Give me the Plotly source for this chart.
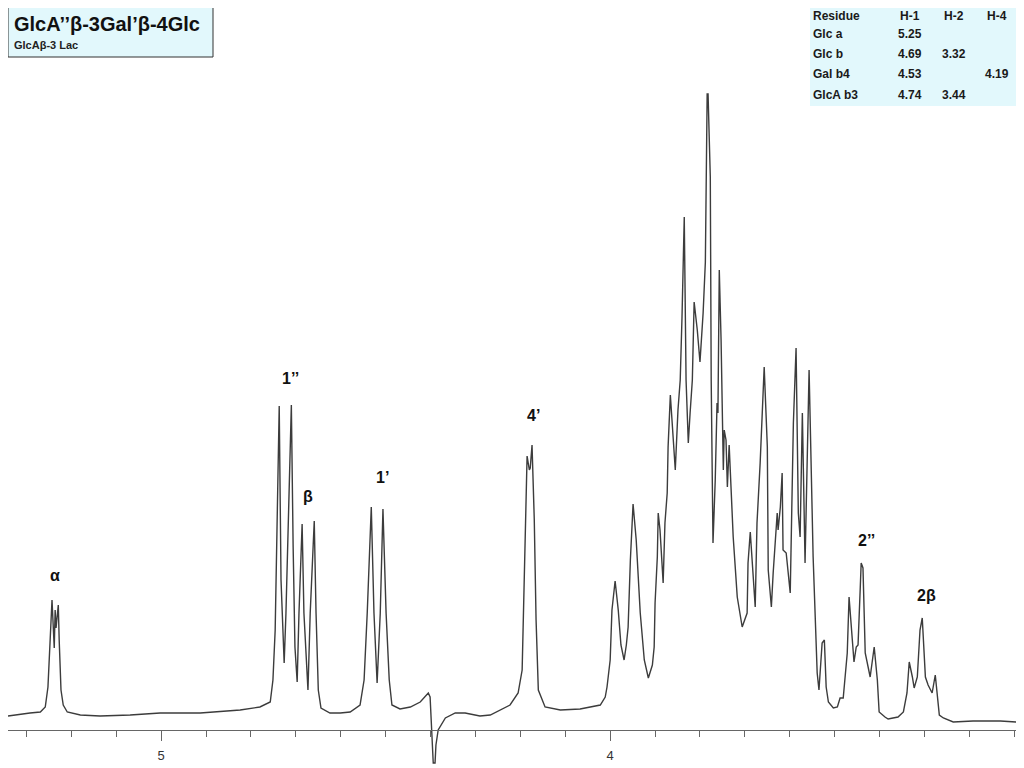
import plotly.graph_objects as go

# 1H NMR trace, chemical shift (ppm) and intensity (a.u.)
shift_ppm = [
    5.341, 5.314, 5.292, 5.269, 5.258, 5.252, 5.247, 5.245, 5.243, 5.238, 5.236, 5.234,
    5.229, 5.227, 5.223, 5.218, 5.209, 5.180, 5.136, 5.069, 5.002, 4.913, 4.824, 4.780,
    4.757, 4.751, 4.746, 4.742, 4.737, 4.733, 4.728, 4.726, 4.722, 4.717, 4.713, 4.710,
    4.706, 4.702, 4.697, 4.693, 4.686, 4.682, 4.673, 4.668, 4.659, 4.655, 4.650, 4.644,
    4.624, 4.601, 4.579, 4.557, 4.548, 4.541, 4.532, 4.526, 4.519, 4.512, 4.506, 4.499,
    4.492, 4.486, 4.468, 4.445, 4.423, 4.405, 4.401, 4.396, 4.394, 4.390, 4.388, 4.383,
    4.367, 4.345, 4.323, 4.290, 4.267, 4.223, 4.205, 4.196, 4.192, 4.187, 4.185, 4.180,
    4.178, 4.174, 4.169, 4.165, 4.160, 4.145, 4.111, 4.067, 4.022, 4.011, 4.007, 4.000,
    3.996, 3.989, 3.982, 3.976, 3.969, 3.964, 3.960, 3.955, 3.949, 3.942, 3.933, 3.924,
    3.915, 3.906, 3.902, 3.900, 3.895, 3.893, 3.889, 3.882, 3.878, 3.873, 3.871, 3.866,
    3.862, 3.855, 3.849, 3.844, 3.840, 3.835, 3.831, 3.826, 3.822, 3.817, 3.813, 3.806,
    3.800, 3.793, 3.788, 3.786, 3.784, 3.782, 3.777, 3.775, 3.773, 3.771, 3.766, 3.762,
    3.760, 3.757, 3.753, 3.751, 3.748, 3.746, 3.742, 3.739, 3.735, 3.726, 3.717, 3.706,
    3.695, 3.693, 3.688, 3.677, 3.673, 3.666, 3.657, 3.650, 3.648, 3.641, 3.637, 3.628,
    3.626, 3.621, 3.617, 3.615, 3.608, 3.599, 3.595, 3.592, 3.586, 3.581, 3.577, 3.572,
    3.566, 3.557, 3.548, 3.543, 3.539, 3.535, 3.528, 3.523, 3.519, 3.514, 3.503, 3.494,
    3.488, 3.481, 3.472, 3.468, 3.461, 3.457, 3.452, 3.448, 3.443, 3.441, 3.437, 3.432,
    3.421, 3.412, 3.405, 3.401, 3.388, 3.381, 3.359, 3.347, 3.339, 3.334, 3.327, 3.323,
    3.316, 3.310, 3.305, 3.298, 3.292, 3.283, 3.276, 3.272, 3.267, 3.258, 3.236, 3.192,
    3.131, 3.094,
]
intensity = [
    14, 16, 17, 18, 23, 43, 90, 115, 130, 82, 120, 102,
    125, 90, 40, 25, 18, 15, 14, 15, 17, 17, 20, 23,
    28, 50, 100, 200, 324, 150, 77, 67, 117, 200, 283, 325,
    183, 83, 48, 117, 206, 117, 40, 117, 209, 117, 40, 22,
    17, 17, 18, 25, 50, 117, 223, 117, 47, 117, 221, 117,
    50, 25, 21, 23, 28, 37, 33, -10, -33, -33, -15, 0,
    12, 17, 17, 14, 15, 25, 37, 60, 130, 230, 274, 260,
    262, 285, 210, 110, 40, 23, 20, 21, 25, 33, 43, 70,
    120, 149, 120, 85, 70, 85, 103, 170, 226, 190, 117, 70,
    52, 65, 83, 127, 173, 217, 200, 147, 207, 237, 283, 335,
    310, 260, 320, 350, 413, 513, 350, 287, 317, 350, 428, 400,
    368, 417, 468, 553, 636, 636, 553, 350, 263, 187, 250, 327,
    317, 460, 390, 317, 260, 300, 290, 243, 285, 193, 133, 103,
    117, 167, 198, 123, 207, 267, 363, 283, 160, 123, 157, 217,
    200, 223, 257, 180, 177, 137, 227, 307, 382, 217, 193, 317,
    167, 360, 173, 117, 57, 40, 87, 90, 43, 28, 22, 23,
    32, 32, 77, 133, 90, 68, 83, 85, 143, 167, 162, 77,
    53, 83, 50, 18, 13, 11, 13, 18, 37, 68, 53, 42,
    53, 100, 112, 53, 45, 37, 55, 37, 15, 12, 8, 9,
    9, 8,
]

# assigned peaks: label, shift (ppm), label height (a.u.)
peak_labels = ["α", "1’’", "β", "1’", "4’", "2’’", "2β"]
label_ppm = [5.236, 4.713, 4.673, 4.508, 4.171, 3.430, 3.296]
label_height = [155, 352, 234, 253, 315, 190, 135]

# chemical shift table
table_header = ["Residue", "H-1", "H-2", "H-4"]
table_rows = [
    ["Glc a", "5.25", "", ""],
    ["Glc b", "4.69", "3.32", ""],
    ["Gal b4", "4.53", "", "4.19"],
    ["GlcA b3", "4.74", "3.44", ""],
]

# the page adds an 8 px body margin, so the figure starts at screen (8, 8)
OFF = 8
W, H = 1016, 760
ML, MR = 0, 7


def px(x):
    return (x - OFF - ML) / (W - ML - MR)


def py(y):
    return (H - (y - OFF)) / H


fig = go.Figure()

fig.add_trace(go.Scatter(
    x=shift_ppm,
    y=intensity,
    mode='lines',
    line=dict(color='#3c3c3c', width=1.4),
    hoverinfo='skip',
    showlegend=False,
))

# peak labels
for lab, xv, yv in zip(peak_labels, label_ppm, label_height):
    fig.add_annotation(
        x=xv, y=yv, xref='x', yref='y', text='<b>' + lab + '</b>', showarrow=False,
        font=dict(family='Liberation Sans, Arial', size=16, color='#111111'),
    )

# title box
fig.add_shape(
    type='rect', xref='paper', yref='paper',
    x0=px(8), x1=px(213), y0=py(57), y1=py(5),
    fillcolor='#e2f8fc', line=dict(color='#333333', width=1), layer='below',
)
fig.add_annotation(
    x=px(12), y=py(24), xref='paper', yref='paper', xanchor='left', yanchor='middle',
    text='<b>GlcA’’β-3Gal’β-4Glc</b>', showarrow=False,
    font=dict(family='Liberation Sans, Arial', size=20, color='#111111'),
)
fig.add_annotation(
    x=px(12), y=py(45), xref='paper', yref='paper', xanchor='left', yanchor='middle',
    text='<b>GlcAβ-3 Lac</b>', showarrow=False,
    font=dict(family='Liberation Sans, Arial', size=11, color='#222222'),
)

# shift table
fig.add_shape(
    type='rect', xref='paper', yref='paper',
    x0=px(810), x1=px(1024), y0=py(106), y1=py(8),
    fillcolor='#e2f8fc', line=dict(width=0), layer='below',
)
col_x = [811, 910, 954, 997]
row_y = [16, 34, 54, 74, 95]
for r, row in enumerate([table_header] + table_rows):
    for c, cell in enumerate(row):
        if not cell:
            continue
        fig.add_annotation(
            x=px(col_x[c]), y=py(row_y[r]), xref='paper', yref='paper',
            xanchor='left' if c == 0 else 'center', yanchor='middle',
            text='<b>' + cell + '</b>', showarrow=False,
            font=dict(family='Liberation Sans, Arial', size=12, color='#1a1a1a'),
        )

fig.update_layout(
    width=W, height=H,
    margin=dict(l=ML, r=MR, t=0, b=0),
    paper_bgcolor='white',
    plot_bgcolor='white',
    xaxis=dict(
        range=[5.341, 3.094],
        anchor='free', position=(H - (730 - OFF)) / H,
        showgrid=False, zeroline=False,
        showline=True, linecolor='#666666', linewidth=1,
        ticks='outside', ticklen=10, tickcolor='#666666',
        dtick=1, tick0=0,
        minor=dict(dtick=0.1, ticks='outside', ticklen=6, tickcolor='#666666'),
        tickfont=dict(family='Liberation Sans, Arial', size=13, color='#333333'),
        ticklabelstandoff=3,
    ),
    yaxis=dict(
        range=[-38, 722], visible=False, showgrid=False, zeroline=False,
    ),
)

fig.write_html("out.html")
